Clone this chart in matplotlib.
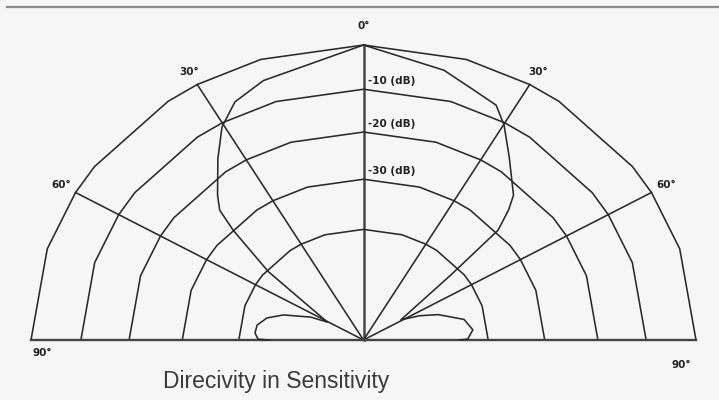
import numpy as np
import matplotlib
matplotlib.use("Agg")
import matplotlib.pyplot as plt

# ---- data ----
ring_db = [0, -10, -20, -30, -40]
ring_labels = ["-10 (dB)", "-20 (dB)", "-30 (dB)"]
label_db = [-10, -20, -30]
radial_angles = [-90, -60, -30, 0, 30, 60, 90]
angle_tick_labels = ["90°", "60°", "30°", "0°", "30°", "60°", "90°"]

# radial scale calibration (dB -> relative radius)
scale_db = [-62, -40, -30, -20, -10, 0]
scale_r = [0.0, 0.375, 0.545, 0.705, 0.85, 1.0]

# directivity pattern, left half (angles measured toward the left) and right half
left_angle = [0, 18.9, 25.6, 30.5, 35.5, 41.8, 44.5, 46.5, 51, 60.8, 64, 70.6, 75.6, 81, 85.8, 89.5, 90]
left_db = [0, -4.7, -7.0, -10.8, -16.6, -22.9, -25.5, -30.3, -40.4, -54.7, -51.6, -47.0, -44.4, -43.0, -42.8, -43.4, -45.2]
right_angle = [0, 14.8, 20.7, 26.6, 30.1, 35.2, 42.6, 44.7, 47.4, 50, 58.7, 64, 69, 77, 84, 89.4, 90]
right_db = [0, -3.6, -5.8, -7.3, -10.5, -16.2, -22.4, -25.3, -29.7, -41.9, -54.3, -51.0, -47.9, -43.8, -42.6, -43.6, -45.0]

title = "Direcivity in Sensitivity"


def to_r(db):
    return np.interp(db, scale_db, scale_r)


def xy(theta_deg, r):
    t = np.radians(theta_deg)
    return r * np.sin(t), r * np.cos(t)


W, H = 719, 400
fig = plt.figure(figsize=(W / 100, H / 100), dpi=100)
fig.patch.set_facecolor("#f6f6f6")
ax = fig.add_axes([0, 0, 1, 1])
ax.set_facecolor("#f6f6f6")
cx, cy, rx, ry = 363.5, 340.0, 332.5, 295.0
ax.set_xlim((0 - cx) / rx, (W - cx) / rx)
ax.set_ylim((cy - H) / ry, (cy - 0) / ry)
ax.axis("off")

ink = "#2a2a2a"
lw = 1.15

# rings (polygonal)
verts = sorted(set(list(range(-90, 91, 18)) + [-90, -60, -30, 0, 30, 60, 90]))
for db in ring_db:
    r = to_r(db)
    x, y = xy(np.array(verts, dtype=float), r)
    ax.plot(x, y, color=ink, lw=lw, solid_joinstyle="miter")

# radial lines
for a in radial_angles:
    x, y = xy(a, 1.0)
    ax.plot([0, x], [0, y], color=ink, lw=lw if a != 0 else 1.8,
            alpha=1 if a != 0 else 0.85)
# baseline
ax.plot([-1, 1], [0, 0], color="#444444", lw=1.7)

# directivity curve
la = -np.array(left_angle, dtype=float)
lx, ly = xy(la, to_r(np.array(left_db)))
ax.plot(lx, ly, color=ink, lw=lw)
rxp, ryp = xy(np.array(right_angle, dtype=float), to_r(np.array(right_db)))
ax.plot(rxp, ryp, color=ink, lw=lw)

# angle labels
lab_font = dict(family="DejaVu Sans", fontsize=7.5, fontweight="bold", color="#222222")
for a, lab in zip(radial_angles, angle_tick_labels):
    if abs(a) == 90:
        continue
    rr = 1.065 if a == 0 else 1.05
    x, y = xy(a, rr)
    ax.text(x, y, lab, ha="center", va="center", **lab_font)
ax.text((42 - cx) / rx, (cy - 353) / ry, "90°", ha="center", va="center", **lab_font)
ax.text((681 - cx) / rx, (cy - 365) / ry, "90°", ha="center", va="center", **lab_font)

# dB labels
for db, lab in zip(label_db, ring_labels):
    r = to_r(db)
    ax.text(0.015, r + 0.028, lab, ha="left", va="center", **lab_font)

# title
ax.text((276 - cx) / rx, (cy - 388) / ry, title, ha="center", va="baseline",
        family="Liberation Sans", fontsize=16.5, color="#3a3a3a")

# top border line
ax.plot([(7 - cx) / rx, (W - cx) / rx], [(cy - 7) / ry] * 2, color="#8a8a8a", lw=1.6)

fig.savefig("out.png", dpi=100, facecolor=fig.get_facecolor())
